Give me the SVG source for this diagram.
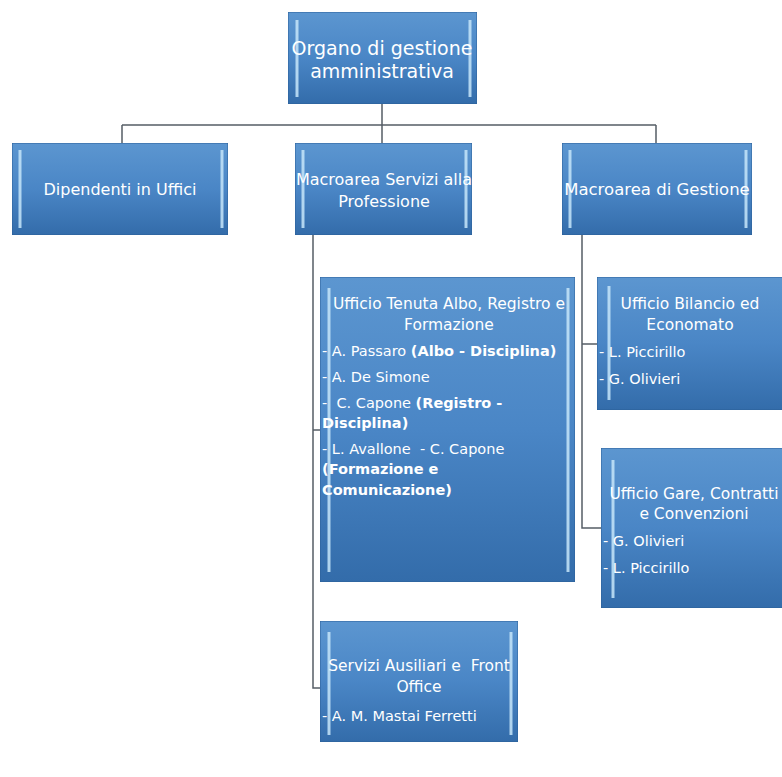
<svg xmlns="http://www.w3.org/2000/svg" width="782" height="777" viewBox="0 0 782 777">
<defs>
<linearGradient id="g" x1="0" y1="0" x2="0" y2="1">
<stop offset="0" stop-color="#5c96d0"/>
<stop offset="0.5" stop-color="#4a86c6"/>
<stop offset="1" stop-color="#336caa"/>
</linearGradient>
<style>
.box{fill:url(#g);stroke:#2d6199;stroke-width:1}
.hl{stroke:#c6e6fa;stroke-width:3;opacity:0.85}
.t{font-family:"DejaVu Sans","Liberation Sans",Arial,sans-serif;fill:#ffffff;font-size:14.5px;white-space:pre}
.h{font-size:15.5px}
.c{text-anchor:middle}
.b{font-weight:bold}
.lk{fill:none;stroke:#555d66;stroke-width:1.5}
</style>
<clipPath id="c0"><rect x="288" y="12" width="189" height="92"/></clipPath>
<clipPath id="c1"><rect x="12" y="143" width="216" height="92"/></clipPath>
<clipPath id="c2"><rect x="295" y="143" width="177" height="92"/></clipPath>
<clipPath id="c3"><rect x="562" y="143" width="190" height="92"/></clipPath>
<clipPath id="c4"><rect x="320" y="277" width="255" height="305"/></clipPath>
<clipPath id="c5"><rect x="597" y="277" width="185" height="133"/></clipPath>
<clipPath id="c6"><rect x="601" y="448" width="181" height="160"/></clipPath>
<clipPath id="c7"><rect x="320" y="621" width="198" height="121"/></clipPath>
</defs>
<rect width="782" height="777" fill="#ffffff"/>
<g id="connectors">
<path class="lk" d="M382 104V125M122 125H656M122 125V143M382 125V143M656 125V143"/>
<path class="lk" d="M313 235V688H320M313 430H320"/>
<path class="lk" d="M582 235V528H601M582 344H597"/>
</g>
<g id="n0" clip-path="url(#c0)">
<rect class="box" x="288" y="12" width="189" height="92"/>
<line class="hl" x1="297" y1="20" x2="297" y2="97"/><line class="hl" x1="470" y1="20" x2="470" y2="97"/>
<text class="t c" x="382" y="55" style="font-size:19px">Organo di gestione</text>
<text class="t c" x="382" y="78" style="font-size:19px">amministrativa</text>
</g>
<g id="n1" clip-path="url(#c1)">
<rect class="box" x="12" y="143" width="216" height="92"/>
<line class="hl" x1="20" y1="150" x2="20" y2="228"/><line class="hl" x1="222" y1="150" x2="222" y2="228"/>
<text class="t c" x="120" y="195" style="font-size:16px">Dipendenti in Uffici</text>
</g>
<g id="n2" clip-path="url(#c2)">
<rect class="box" x="295" y="143" width="177" height="92"/>
<line class="hl" x1="303" y1="150" x2="303" y2="228"/><line class="hl" x1="466" y1="150" x2="466" y2="228"/>
<text class="t c" x="384" y="185" style="font-size:16px">Macroarea Servizi alla</text>
<text class="t c" x="384" y="207" style="font-size:16px">Professione</text>
</g>
<g id="n3" clip-path="url(#c3)">
<rect class="box" x="562" y="143" width="190" height="92"/>
<line class="hl" x1="570" y1="150" x2="570" y2="228"/><line class="hl" x1="746" y1="150" x2="746" y2="228"/>
<text class="t c" x="657" y="195" style="font-size:16.5px">Macroarea di Gestione</text>
</g>
<g id="n4" clip-path="url(#c4)">
<rect class="box" x="320" y="277" width="255" height="305"/>
<line class="hl" x1="329" y1="288" x2="329" y2="572"/><line class="hl" x1="568" y1="288" x2="568" y2="572"/>
<text class="t h c" x="449" y="309">Ufficio Tenuta Albo, Registro e</text>
<text class="t h c" x="449" y="330">Formazione</text>
<text class="t" x="322" y="356">- A. Passaro <tspan class="b">(Albo - Disciplina)</tspan></text>
<text class="t" x="322" y="382">- A. De Simone</text>
<text class="t" x="322" y="408">-  C. Capone <tspan class="b">(Registro -</tspan></text>
<text class="t b" x="322" y="428">Disciplina)</text>
<text class="t" x="322" y="454">- L. Avallone  - C. Capone</text>
<text class="t b" x="322" y="474">(Formazione e</text>
<text class="t b" x="322" y="495">Comunicazione)</text>
</g>
<g id="n5" clip-path="url(#c5)">
<rect class="box" x="597" y="277" width="190" height="133"/>
<line class="hl" x1="609" y1="286" x2="609" y2="400"/>
<text class="t h c" x="690" y="309">Ufficio Bilancio ed</text>
<text class="t h c" x="690" y="330">Economato</text>
<text class="t" x="599" y="357">- L. Piccirillo</text>
<text class="t" x="599" y="384">- G. Olivieri</text>
</g>
<g id="n6" clip-path="url(#c6)">
<rect class="box" x="601" y="448" width="186" height="160"/>
<line class="hl" x1="613" y1="460" x2="613" y2="598"/>
<text class="t h c" x="694" y="499">Ufficio Gare, Contratti</text>
<text class="t h c" x="694" y="519">e Convenzioni</text>
<text class="t" x="603" y="546">- G. Olivieri</text>
<text class="t" x="603" y="573">- L. Piccirillo</text>
</g>
<g id="n7" clip-path="url(#c7)">
<rect class="box" x="320" y="621" width="198" height="121"/>
<line class="hl" x1="329" y1="632" x2="329" y2="735"/><line class="hl" x1="511" y1="632" x2="511" y2="735"/>
<text class="t h c" x="419" y="671">Servizi Ausiliari e  Front</text>
<text class="t h c" x="419" y="692">Office</text>
<text class="t" x="322" y="721">- A. M. Mastai Ferretti</text>
</g>
</svg>
